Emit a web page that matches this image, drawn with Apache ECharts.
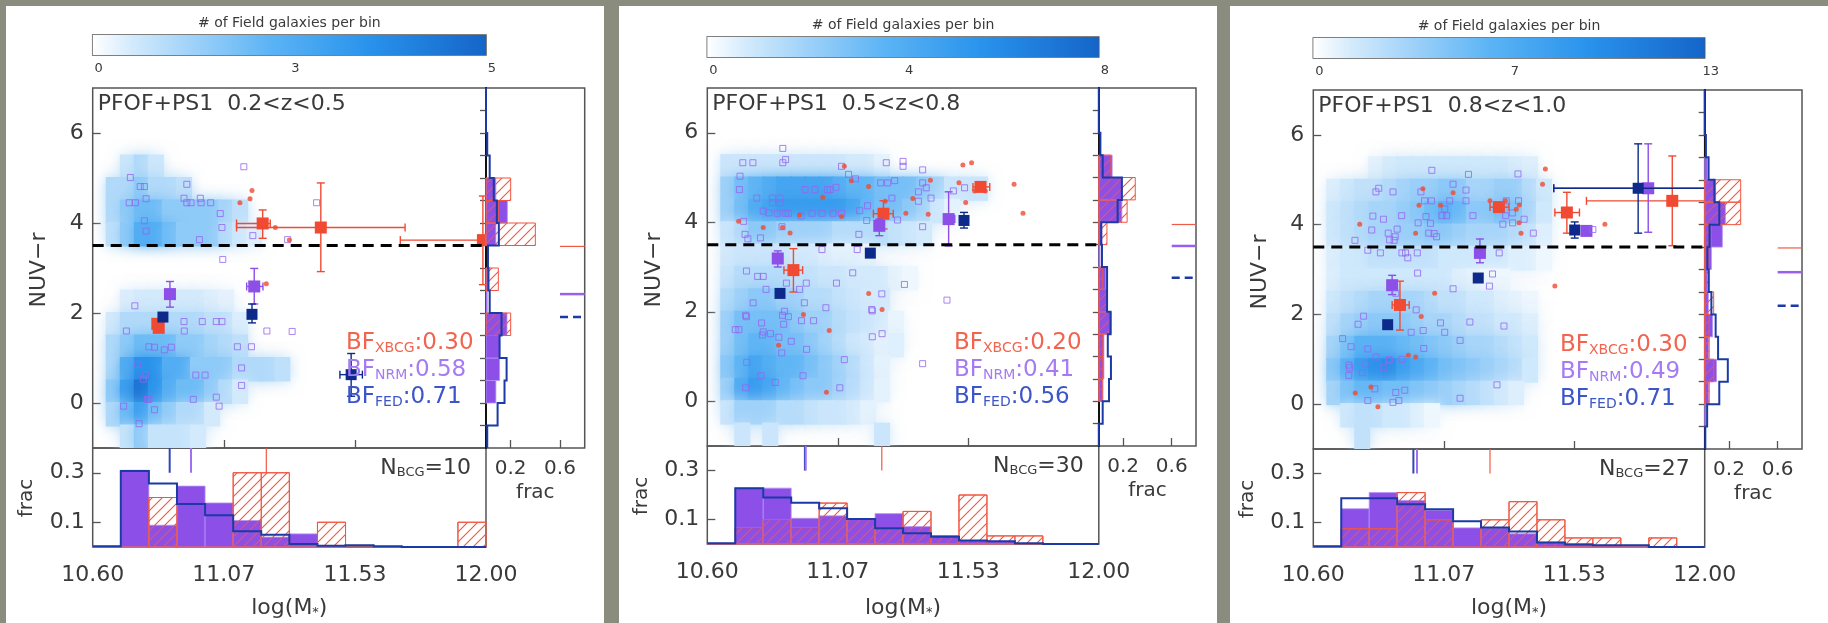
<!DOCTYPE html>
<html>
<head>
<meta charset="utf-8">
<script src="https://cdn.jsdelivr.net/npm/echarts@6/dist/echarts.min.js"></script>
<style>
html, body { margin: 0; padding: 0; background: #8a8c7d; }
#chart { width: 1828px; height: 623px; }
</style>
</head>
<body>
<div id="chart"></div>
<script>
// ---- data ----
const zRanges = ['0.2<z<0.5', '0.5<z<0.8', '0.8<z<1.0'];
const cbarMax = [5, 8, 13];
const cbarLabels = [['0', '3', '5'], ['0', '4', '8'], ['0', '7', '13']];
const nBcg = [10, 30, 27];
const bfXbcg = ['0.30', '0.20', '0.30'];
const bfNrm = ['0.58', '0.41', '0.49'];
const bfFed = ['0.71', '0.56', '0.71'];

const massTicks = [10.6, 11.0667, 11.5333, 12.0];
const massTickLabels = ['10.60', '11.07', '11.53', '12.00'];
const colorTicks = [0, 2, 4, 6];
const fracTicksBottom = [0.1, 0.3];
const fracTicksRight = [0.2, 0.6];
const colorMinorTicks = [-0.5, 0, 0.5, 1, 1.5, 2, 2.5, 3, 3.5, 4, 4.5, 5, 5.5, 6, 6.5];
const redSeqLine = 3.5;

const massEdges = [10.6, 10.7, 10.8, 10.9, 11.0, 11.1, 11.2, 11.3, 11.4, 11.5, 11.6, 11.7, 11.8, 11.9, 12.0];
const colorEdges = [-1, -0.5, 0, 0.5, 1, 1.5, 2, 2.5, 3, 3.5, 4, 4.5, 5, 5.5, 6, 6.5, 7];

// field galaxy density grid: rows are NUV-r bins (bottom edge), columns log M bins of 0.05 from 10.60
const fieldRowBottoms = [5.0, 4.5, 4.0, 3.5, 3.0, 2.5, 2.0, 1.5, 1.0, 0.5, 0.0, -0.5, -1.0];
const fieldX0 = 10.6, fieldDx = 0.05, fieldDy = 0.5;

const field1 = [
  [0, 0, 0.6, 1, 0.6],
  [0, 1, 1, 1.5, 1, 1, 0.8],
  [0, 1, 1.5, 2, 2, 1.5, 1.5, 1.5, 1.5, 1.2, 0.8],
  [0, 0.8, 1.5, 2.5, 2.5, 2, 1.5, 1.5, 1.5, 1, 0.6, 0.4],
  [],
  [],
  [0, 0, 0.4, 0.5, 0.5, 0.5, 0.5, 0.5, 0.4, 0.3],
  [0, 0.5, 1, 1, 1, 1, 1, 1, 0.8, 0.8, 0.4],
  [0, 1, 1.5, 2, 2, 2, 1.5, 1.5, 1.2, 1, 0.8],
  [0, 1, 2.5, 3.5, 3.5, 2.5, 2.5, 1.5, 1.5, 1.5, 1, 1, 1, 0.8],
  [0, 1.5, 3, 4.5, 3.5, 2.5, 2, 2, 1.5, 1, 0.5],
  [0, 1, 2, 3, 2, 1.5, 1, 1, 0.5],
  [0, 0, 0.7, 1.5, 0.7, 0.7, 0.7, 0.5]
];
const field2 = [
  [0, 1, 1, 1, 1, 1, 1, 1, 1, 1, 0.8, 0.8, 0.5],
  [0, 2, 3, 3.5, 4, 4.5, 4.5, 4.5, 4.5, 4, 3.5, 3.5, 3, 3, 3, 2.5, 2, 1, 1, 1],
  [0, 2, 3, 4, 4.5, 5, 5, 5, 5, 5, 4.5, 3.5, 3, 3, 2.5, 2, 1, 0.5],
  [0, 1, 1.5, 2.5, 2.5, 2, 2, 2, 2, 1.5, 1.5, 1.5, 1.5, 1.2, 1, 0.8],
  [0, 0.8, 1, 1, 1, 1, 0.8, 0.8, 0.6, 0.5, 0.5, 0.4],
  [0, 1, 1.5, 1.5, 1.5, 1.5, 1.2, 1.2, 1, 1, 0.8, 0.8, 0.8, 0.5, 0.3],
  [0, 1.5, 2, 2.5, 2.5, 2, 2, 1.5, 1.5, 1.2, 1, 0.8, 0.8],
  [0, 2, 3, 3, 3, 3, 2.5, 2, 2, 1.5, 1.2, 1, 0.8, 0.4],
  [0, 2, 3, 3.5, 3.5, 3, 3, 2.5, 2, 1.5, 1, 0.8, 0.5, 0.6],
  [0, 2.5, 3.5, 4.5, 4, 3.5, 3.5, 3, 2.5, 2, 1.5, 1, 0.5],
  [0, 2, 4, 5, 4.5, 3.5, 3, 2.5, 2.5, 2, 1.5, 1, 0.5],
  [0, 1, 2, 2, 2, 1.5, 1.5, 1.2, 1, 1, 0.8, 0.5],
  [0, 0, 1, 0, 1, 0, 0, 0, 0, 0, 0, 0, 1]
];
const field3 = [
  [0, 0, 0, 0, 0.8, 1.2, 1.5, 1.5, 1.5, 1.5, 1.5, 1.5, 1.5, 1.5, 1.2, 1],
  [0, 1, 1.5, 2, 2, 2.5, 3, 3.5, 3.5, 4, 4, 3, 3, 3.5, 3.5, 2.5, 1.5],
  [0, 1.5, 2, 2.5, 3, 3, 3.5, 4, 5, 6, 5.5, 4, 4, 5, 4.5, 3, 1.5],
  [0, 1.5, 2, 2.5, 3, 3, 3.5, 3.5, 4, 4, 3.5, 3, 3, 3, 2.5, 2, 1],
  [0, 1, 1.5, 1.5, 2, 2, 2, 2, 2, 1.5, 1.5, 1.5, 1.5, 1.5, 1, 1, 0.5],
  [0, 1, 1.5, 1.5, 1.5, 1.5, 1.5, 1.5, 1.5, 1.5, 1, 0.8, 0.5, 0.5],
  [0, 1.5, 2, 2.5, 3, 3, 3, 3, 2.5, 2, 2, 1.5, 1.5, 1, 0.8, 0.5],
  [0, 2, 3, 3.5, 4, 4, 4, 3.5, 3, 3, 2.5, 2, 2, 1.5, 1.5, 1],
  [0, 3, 4.5, 6, 6, 6, 5.5, 5, 4.5, 4, 3.5, 3, 3, 2.5, 2, 1.5],
  [0, 4, 6, 8, 9, 9.5, 8, 7, 6, 5, 4.5, 4, 3.5, 3, 2.5, 1.5],
  [0, 3, 4.5, 5.5, 5.5, 5, 5, 4.5, 4, 3.5, 3, 2.5, 2, 1.5, 1],
  [0, 0, 1.5, 2, 2, 1.5, 1.5, 1, 0.5],
  [0, 0, 0, 2]
];

// non-BCG (NRM) members: open squares [logM, NUV-r]
const nrm1 = [[10.734,5.01],[10.769,4.81],[10.784,4.81],[10.73,4.45],[10.752,4.45],[10.79,4.54],[10.935,4.86],[10.925,4.55],[10.935,4.45],[10.95,4.45],[10.983,4.55],[10.986,4.45],[11.02,4.45],[11.054,4.21],[11.06,3.9],[10.784,4.05],[10.79,3.82],[10.98,3.63],[11.138,5.25],[11.17,3.72],[11.397,4.45],[11.294,3.63],[11.063,3.19],[10.75,2.16],[10.925,1.81],[10.99,1.81],[11.04,1.81],[11.06,1.81],[10.72,1.6],[10.926,1.6],[11.22,1.6],[11.31,1.59],[10.8,1.25],[10.82,1.24],[10.855,1.18],[10.88,1.24],[11.115,1.25],[11.165,1.25],[10.76,0.86],[10.787,0.63],[10.78,0.53],[10.967,0.62],[11.0,0.62],[11.13,0.78],[11.13,0.39],[10.795,0.08],[10.8,0.08],[10.958,0.08],[11.04,0.13],[11.05,-0.07],[10.71,-0.07],[10.82,-0.15],[10.765,-0.46]];
const nrm2 = [[10.87,5.65],[10.88,5.4],[10.87,5.33],[10.727,5.33],[10.763,5.33],[10.717,5.03],[10.715,4.73],[10.777,4.54],[10.833,4.54],[10.86,4.54],[10.833,4.44],[10.86,4.44],[10.8,4.25],[10.82,4.21],[10.85,4.2],[10.88,4.2],[10.89,4.2],[10.935,4.14],[10.975,4.2],[11.01,4.2],[11.05,4.2],[11.08,4.2],[11.145,4.26],[10.95,4.73],[10.985,4.73],[11.03,4.73],[11.04,4.73],[11.06,4.78],[11.08,5.25],[11.105,5.07],[11.13,4.97],[11.22,4.88],[11.245,4.88],[11.27,4.93],[11.24,5.33],[11.3,5.36],[11.3,5.25],[11.37,5.17],[11.37,4.88],[11.383,4.77],[11.355,4.68],[11.4,4.54],[11.355,4.47],[11.48,4.7],[11.52,4.77],[11.26,4.54],[11.173,4.37],[11.17,4.04],[11.28,4.05],[11.37,3.9],[11.142,3.73],[10.73,4.02],[10.735,3.73],[10.745,3.63],[10.79,3.65],[10.867,3.9],[11.01,3.39],[11.136,3.39],[10.74,2.91],[10.78,2.79],[10.8,2.79],[10.883,2.64],[10.954,2.64],[10.93,2.5],[10.81,2.5],[11.062,2.64],[11.12,2.87],[11.305,2.61],[11.224,2.4],[11.457,2.26],[11.188,2.05],[10.947,2.2],[11.024,2.09],[10.876,2.01],[10.737,1.92],[10.869,1.92],[10.764,2.2],[10.74,1.89],[10.794,1.75],[10.873,1.72],[10.937,1.8],[10.98,1.8],[10.89,1.89],[10.7,1.6],[10.713,1.6],[10.8,1.55],[10.826,1.51],[10.797,1.48],[10.856,1.43],[10.9,1.34],[10.955,1.16],[10.866,1.08],[11.09,0.93],[11.19,1.44],[11.225,1.51],[11.19,2.02],[10.741,0.87],[10.792,0.57],[10.843,0.42],[10.942,0.57],[10.737,0.3],[11.074,0.3],[11.37,0.84]];
const nrm3 = [[11.024,5.21],[11.155,5.12],[11.332,5.13],[11.1,4.9],[11.146,4.77],[10.985,4.73],[10.885,4.73],[10.834,4.81],[10.824,4.73],[10.998,4.53],[11.023,4.53],[11.088,4.53],[11.146,4.53],[11.07,4.35],[11.06,4.2],[11.077,4.2],[11.003,4.18],[11.171,4.2],[10.813,4.19],[10.851,4.12],[10.916,4.2],[10.975,4.04],[11.019,4.03],[11.29,4.53],[11.334,4.53],[11.288,4.2],[11.312,4.26],[11.354,4.12],[11.278,4.01],[11.313,4.04],[10.809,3.88],[10.9,3.9],[10.868,3.81],[10.893,3.73],[10.873,3.66],[10.889,3.65],[11.013,3.81],[11.041,3.73],[11.032,3.8],[11.387,3.81],[10.749,3.65],[10.795,3.43],[10.84,3.37],[10.917,3.37],[10.93,3.37],[10.938,3.26],[10.972,3.37],[11.265,3.37],[10.973,2.92],[11.241,2.9],[11.23,2.63],[11.1,2.57],[10.895,2.47],[10.968,2.1],[10.78,1.96],[11.6,3.89],[10.76,1.78],[10.705,1.46],[10.735,1.28],[10.795,1.23],[10.824,1.05],[10.872,0.99],[10.917,1.0],[10.95,1.6],[10.993,1.64],[10.995,1.24],[11.055,1.81],[11.07,1.6],[11.16,1.83],[11.282,1.74],[11.125,1.42],[10.727,0.87],[10.73,0.81],[10.727,0.64],[10.785,0.89],[10.775,0.7],[10.85,0.81],[10.87,0.97],[11.257,0.43],[10.82,0.34],[10.895,0.26],[10.927,0.31],[10.795,0.08],[10.885,0.04],[10.906,0.08],[11.125,0.13]];

// X-ray BCGs: small dots
const xbcg1 = [[11.124,4.45],[11.16,4.54],[11.167,4.72],[11.25,3.9],[11.3,3.62],[11.218,2.65]];
const xbcg2 = [[10.712,4.02],[10.8,3.88],[10.869,3.88],[10.896,3.76],[10.93,4.16],[11.013,4.56],[11.08,4.13],[11.115,4.93],[11.09,5.25],[11.177,4.8],[11.236,4.47],[11.31,4.2],[11.335,4.53],[11.39,4.18],[11.398,4.94],[11.5,4.88],[11.514,5.28],[11.545,5.33],[11.524,4.44],[11.556,4.7],[11.594,4.7],[11.697,4.85],[11.729,4.2],[11.177,2.41],[11.225,2.05],[10.944,1.94],[11.036,1.58],[10.855,1.25],[11.026,0.2]];
const xbcg3 = [[11.43,5.24],[11.42,4.9],[10.992,4.8],[11.1,4.71],[10.978,4.43],[11.055,4.43],[11.232,4.53],[11.287,4.53],[11.326,4.34],[11.337,4.44],[11.336,4.04],[11.343,3.81],[10.966,3.81],[10.766,4.01],[11.643,4.01],[11.464,2.63],[11.034,2.47],[10.986,1.95],[10.94,1.09],[10.966,1.05],[10.75,0.25],[10.806,0.38],[10.831,-0.06]];

// binned means with errors: [logM, NUV-r, xlo, xhi, ylo, yhi]
const bigXbcg1 = [[11.205,3.99,11.112,11.232,3.66,4.29],[11.412,3.9,11.112,11.712,2.92,4.89],[11.989,3.62,11.695,12.0,2.63,4.6],[10.83,1.76,null,null,null,null],[10.835,1.67,null,null,null,null]];
const bigNrm1 = [[10.875,2.42,null,null,2.13,2.7],[11.175,2.59,11.148,11.206,2.2,2.99]];
const bigFed1 = [[10.85,1.91,null,null,null,null],[11.167,1.97,null,null,1.78,2.2],[11.52,0.63,11.48,11.56,0.15,1.1]];
const bigXbcg2 = [[11.23,4.19,11.194,11.265,3.85,4.48],[11.577,4.79,11.55,11.61,4.7,4.88],[10.908,2.93,10.874,10.941,2.44,3.41]];
const bigNrm2 = [[11.215,3.92,null,null,3.7,4.07],[11.463,4.07,11.446,11.485,3.47,4.68],[10.852,3.19,null,null,3.0,3.36]];
const bigFed2 = [[11.518,4.04,null,null,3.87,4.22],[11.183,3.31,null,null,null,null],[10.86,2.41,null,null,null,null]];
const bigXbcg3 = [[11.264,4.39,11.232,11.3,null,null],[11.507,4.27,11.464,11.552,3.81,4.72],[11.884,4.53,11.577,12.0,3.53,5.53],[10.91,2.21,10.882,10.943,1.65,2.74]];
const bigNrm3 = [[11.196,3.37,null,null,3.15,3.68],[10.882,2.65,null,null,2.44,2.87],[11.577,3.86,null,null,null,null],[11.798,4.81,11.46,12.0,3.83,5.8]];
const bigFed3 = [[11.762,4.81,11.46,12.0,3.81,5.8],[11.535,3.88,null,null,3.7,4.06],[11.19,2.81,null,null,null,null],[10.866,1.77,null,null,null,null]];

// stellar mass histograms (fraction per 0.1 dex bin, 10.6 - 12.0)
const massFed1 = [0.003,0.307,0.257,0.174,0.128,0.064,0.05,0.012,0.005,0.007,0.003,0,0,0];
const massNrm1 = [0.003,0.31,0.088,0.246,0.178,0.107,0.04,0.053,0.005,0,0,0,0,0];
const massXbcg1 = [0,0,0.2,0,0,0.3,0.3,0,0.1,0,0,0,0,0.1];
const massFed2 = [0.003,0.228,0.19,0.168,0.146,0.102,0.064,0.044,0.03,0.014,0.011,0.003,0,0];
const massNrm2 = [0.003,0.228,0.228,0.105,0.115,0.102,0.124,0.071,0.03,0.014,0.01,0,0,0];
const massXbcg2 = [0,0.067,0.1,0.067,0.167,0.1,0.067,0.133,0.033,0.2,0.033,0.033,0,0];
const massFed3 = [0.003,0.199,0.199,0.174,0.154,0.105,0.08,0.063,0.018,0.01,0.007,0.007,0,0];
const massNrm3 = [0.003,0.156,0.222,0.19,0.15,0.078,0.078,0.054,0.02,0.014,0.007,0.003,0,0];
const massXbcg3 = [0,0.074,0.074,0.222,0.111,0,0.111,0.185,0.111,0.037,0.037,0,0.037,0];

// NUV-r histograms (fraction per 0.5 mag bin, -1 - 7)
const colFed1 = [0.01,0.094,0.15,0.167,0.11,0.126,0.03,0.02,0.016,0.104,0.088,0.063,0.03,0.01,0,0];
const colNrm1 = [0,0,0.08,0.11,0.11,0.17,0.01,0.02,0,0.08,0.173,0.08,0,0,0,0];
const colXbcg1 = [0,0,0,0,0,0.2,0,0.1,0,0.4,0.1,0.2,0,0,0,0];
const colFed2 = [0,0.032,0.084,0.1,0.074,0.097,0.068,0.068,0.026,0.02,0.155,0.19,0.032,0.013,0,0];
const colNrm2 = [0,0,0.03,0.042,0.042,0.097,0.068,0.058,0.01,0.026,0.19,0.187,0.11,0,0,0];
const colXbcg2 = [0,0,0.033,0.033,0.033,0.1,0.067,0.033,0,0.067,0.233,0.3,0.1,0,0,0];
const colFed3 = [0.005,0.02,0.12,0.19,0.11,0.09,0.055,0.032,0.022,0.04,0.12,0.08,0.032,0.01,0,0];
const colNrm3 = [0,0.01,0.032,0.097,0.032,0.065,0.03,0.02,0.055,0.145,0.17,0.09,0.02,0,0,0];
const colXbcg3 = [0,0,0.037,0.074,0.037,0.037,0.074,0.037,0.037,0.055,0.296,0.296,0,0,0,0];

// medians [FED, NRM, XBCG]
const medMass1 = [10.874, 10.95, 11.218];
const medMass2 = [10.949, 10.952, 11.224];
const medMass3 = [10.958, 10.971, 11.232];
const medCol1 = [1.91, 2.42, 3.48];
const medCol2 = [2.76, 3.47, 3.95];
const medCol3 = [2.19, 2.94, 3.48];

// ---- styling / layout ----
const FONT = 'DejaVu Sans';
const INK = '#3a3a3a';
const FRAME = '#555';
const RED = '#f04a32', PURPLE = '#8c4fe8', NAVY = '#0d2a8a', BLUE = '#1b3aa5';
const cmapStops = [[0, '#ffffff'], [0.1, '#d3eafc'], [0.25, '#a0d2f9'], [0.45, '#5cb4f5'], [0.7, '#2993ec'], [1, '#1565c8']];

const layout = [
  { L: 92.7, T: 88, W: 393.3, H: 360, Hb: 99, Wr: 98.7, cbT: 35, bfX: 346, white: [6, 604] },
  { L: 707.3, T: 88, W: 391.5, H: 358, Hb: 98, Wr: 97.2, cbT: 37, bfX: 954, white: [619, 1217] },
  { L: 1313.3, T: 90, W: 391.4, H: 359, Hb: 98, Wr: 97.3, cbT: 38, bfX: 1560, white: [1230, 1828] }
];

const panels = [
  { field: field1, nrm: nrm1, xbcg: xbcg1, bigX: bigXbcg1, bigN: bigNrm1, bigF: bigFed1,
    mF: massFed1, mN: massNrm1, mX: massXbcg1, cF: colFed1, cN: colNrm1, cX: colXbcg1, medM: medMass1, medC: medCol1 },
  { field: field2, nrm: nrm2, xbcg: xbcg2, bigX: bigXbcg2, bigN: bigNrm2, bigF: bigFed2,
    mF: massFed2, mN: massNrm2, mX: massXbcg2, cF: colFed2, cN: colNrm2, cX: colXbcg2, medM: medMass2, medC: medCol2 },
  { field: field3, nrm: nrm3, xbcg: xbcg3, bigX: bigXbcg3, bigN: bigNrm3, bigF: bigFed3,
    mF: massFed3, mN: massNrm3, mX: massXbcg3, cF: colFed3, cN: colNrm3, cX: colXbcg3, medM: medMass3, medC: medCol3 }
];

function hexToRgb(h) { return [1, 3, 5].map(i => parseInt(h.substr(i, 2), 16)); }
function cmap(t) {
  t = Math.max(0, Math.min(1, t));
  for (let i = 1; i < cmapStops.length; i++) {
    if (t <= cmapStops[i][0]) {
      const a = cmapStops[i - 1], b = cmapStops[i];
      const f = (t - a[0]) / (b[0] - a[0]);
      const ca = hexToRgb(a[1]), cb = hexToRgb(b[1]);
      return 'rgb(' + ca.map((v, k) => Math.round(v + (cb[k] - v) * f)).join(',') + ')';
    }
  }
  return cmapStops[cmapStops.length - 1][1];
}

function hatchCanvas() {
  const c = document.createElement('canvas');
  c.width = 10; c.height = 10;
  const g = c.getContext('2d');
  g.strokeStyle = '#f2553f';
  g.lineWidth = 1.1;
  g.beginPath();
  g.moveTo(0, 10); g.lineTo(10, 0);
  g.moveTo(-2, 2); g.lineTo(2, -2);
  g.moveTo(8, 12); g.lineTo(12, 8);
  g.stroke();
  return c;
}
const hatch = { image: hatchCanvas(), repeat: 'repeat' };

function barsItem(edges, vals, horiz, style) {
  return function (params, api) {
    const i = params.dataIndex, v = vals[i];
    if (!v) return null;
    const a = horiz ? api.coord([0, edges[i]]) : api.coord([edges[i], 0]);
    const b = horiz ? api.coord([v, edges[i + 1]]) : api.coord([edges[i + 1], v]);
    return { type: 'rect', shape: { x: Math.min(a[0], b[0]), y: Math.min(a[1], b[1]),
      width: Math.abs(b[0] - a[0]), height: Math.abs(b[1] - a[1]) }, style: style };
  };
}
function stepItem(edges, vals, horiz, stroke, width) {
  return function (params, api) {
    if (params.dataIndex) return null;
    const pts = [];
    vals.forEach((v, i) => {
      pts.push(horiz ? api.coord([v, edges[i]]) : api.coord([edges[i], v]));
      pts.push(horiz ? api.coord([v, edges[i + 1]]) : api.coord([edges[i + 1], v]));
    });
    return { type: 'polyline', shape: { points: pts }, style: { stroke: stroke, lineWidth: width, fill: null } };
  };
}
function segItem(color, width, dash) {
  return function (params, api) {
    const a = api.coord([api.value(0), api.value(1)]);
    const b = api.coord([api.value(2), api.value(3)]);
    return { type: 'line', shape: { x1: a[0], y1: a[1], x2: b[0], y2: b[1] },
      style: { stroke: color, lineWidth: width, lineDash: dash || null } };
  };
}
function bigItem(rows, color, size) {
  return function (params, api) {
    const d = rows[params.dataIndex];
    const c = api.coord([d[0], d[1]]);
    const st = { stroke: color, lineWidth: 1.4 };
    const kids = [];
    const cap = 4;
    const seg = (x1, y1, x2, y2) => kids.push({ type: 'line', shape: { x1, y1, x2, y2 }, style: st });
    if (d[2] != null) {
      const l = api.coord([d[2], d[1]])[0], r = api.coord([d[3], d[1]])[0];
      seg(l, c[1], r, c[1]); seg(l, c[1] - cap, l, c[1] + cap); seg(r, c[1] - cap, r, c[1] + cap);
    }
    if (d[4] != null) {
      const lo = api.coord([d[0], d[4]])[1], hi = api.coord([d[0], d[5]])[1];
      seg(c[0], lo, c[0], hi); seg(c[0] - cap, lo, c[0] + cap, lo); seg(c[0] - cap, hi, c[0] + cap, hi);
    }
    kids.push({ type: 'rect', shape: { x: c[0] - size / 2, y: c[1] - size / 2, width: size, height: size }, style: { fill: color } });
    return { type: 'group', children: kids };
  };
}

const labelStyle = { fontFamily: FONT, color: INK };
const grid = [], xAxis = [], yAxis = [], series = [], graphic = [];
const noLine = { show: false, onZero: false };

layout.forEach((lay, p) => {
  const P = panels[p];
  const g0 = p * 4;
  const frame = { show: true, borderColor: FRAME, borderWidth: 1.5, backgroundColor: 'transparent' };
  grid.push(Object.assign({ left: lay.L, top: lay.T, width: lay.W, height: lay.H }, frame));
  grid.push(Object.assign({ left: lay.L, top: lay.T + lay.H, width: lay.W, height: lay.Hb }, frame));
  grid.push(Object.assign({ left: lay.L + lay.W, top: lay.T, width: lay.Wr, height: lay.H }, frame));
  grid.push(Object.assign({ left: lay.L, top: lay.cbT, width: lay.W, height: 20 }, frame));

  const tickLine = { color: FRAME, width: 1.3 };
  // main
  xAxis.push({ gridIndex: g0, type: 'value', min: 10.6, max: 12, position: 'bottom', axisLine: noLine, splitLine: { show: false },
    axisLabel: { show: false }, axisTick: { inside: true, length: 8, customValues: massTicks.slice(1, 3), lineStyle: tickLine } });
  yAxis.push({ gridIndex: g0, type: 'value', min: -1, max: 7, axisLine: noLine, splitLine: { show: false },
    axisTick: { inside: true, length: 8, customValues: colorTicks, lineStyle: tickLine },
    axisLabel: Object.assign({ customValues: colorTicks, fontSize: 22, margin: 9 }, labelStyle) });
  // bottom mass histogram
  xAxis.push({ gridIndex: g0 + 1, type: 'value', min: 10.6, max: 12, position: 'bottom', axisLine: noLine, splitLine: { show: false },
    axisTick: { show: false },
    axisLabel: Object.assign({ customValues: massTicks, fontSize: 22, margin: 17,
      formatter: v => massTickLabels[massTicks.findIndex(m => Math.abs(m - v) < 1e-3)] }, labelStyle) });
  yAxis.push({ gridIndex: g0 + 1, type: 'value', min: 0, max: 0.4, axisLine: noLine, splitLine: { show: false },
    axisTick: { inside: true, length: 8, customValues: fracTicksBottom, lineStyle: tickLine },
    axisLabel: Object.assign({ customValues: fracTicksBottom, fontSize: 22, margin: 8, formatter: v => v.toFixed(1) }, labelStyle) });
  // right colour histogram
  xAxis.push({ gridIndex: g0 + 2, type: 'value', min: 0, max: 0.8, position: 'bottom', axisLine: noLine, splitLine: { show: false },
    axisTick: { inside: true, length: 8, customValues: fracTicksRight, lineStyle: tickLine },
    axisLabel: Object.assign({ customValues: fracTicksRight, fontSize: 20, margin: 11, formatter: v => v.toFixed(1) }, labelStyle) });
  yAxis.push({ gridIndex: g0 + 2, type: 'value', min: -1, max: 7, position: 'left', splitLine: { show: false },
    axisLine: { show: true, onZero: false, lineStyle: { color: '#111', width: 2 } },
    axisTick: { inside: false, length: 6, customValues: colorMinorTicks, lineStyle: tickLine },
    axisLabel: { show: false } });
  // colour bar
  xAxis.push({ gridIndex: g0 + 3, type: 'value', min: 0, max: 1, position: 'bottom', axisLine: noLine, splitLine: { show: false },
    axisTick: { inside: true, length: 5, customValues: [0.25, 0.5, 0.75], lineStyle: { color: '#444', width: 1 } },
    axisLabel: Object.assign({ customValues: [0, 0.5, 1], fontSize: 13, margin: 7, padding: [0, 0, 0, 12],
      formatter: v => cbarLabels[p][Math.round(v * 2)] }, labelStyle) });
  yAxis.push({ gridIndex: g0 + 3, type: 'value', min: 0, max: 1, show: false });

  const ax = k => ({ xAxisIndex: g0 + k, yAxisIndex: g0 + k });

  // colour bar gradient
  series.push(Object.assign({ type: 'custom', silent: true, data: [[0.5, 0.5]],
    renderItem: (params, api) => {
      const a = api.coord([0, 0]), b = api.coord([1, 1]);
      return { type: 'rect', shape: { x: a[0], y: b[1], width: b[0] - a[0], height: a[1] - b[1] },
        style: { fill: new echarts.graphic.LinearGradient(0, 0, 1, 0, cmapStops.map(s => ({ offset: s[0], color: s[1] }))) } };
    } }, ax(3)));

  // field density
  const heat = [];
  P.field.forEach((row, r) => row.forEach((v, c) => {
    if (v > 0) heat.push([fieldX0 + c * fieldDx, fieldRowBottoms[r], v]);
  }));
  const vmax = cbarMax[p];
  series.push(Object.assign({ type: 'custom', silent: true, clip: true, data: heat,
    renderItem: (params, api) => {
      const x0 = api.value(0), y0 = api.value(1), v = api.value(2);
      const a = api.coord([x0, y0]), b = api.coord([x0 + fieldDx, y0 + fieldDy]);
      const col = cmap(v / vmax);
      return { type: 'rect', shape: { x: a[0] - 1, y: b[1] - 1, width: b[0] - a[0] + 2, height: a[1] - b[1] + 2 },
        style: { fill: col, shadowBlur: 14, shadowColor: col } };
    } }, ax(0)));

  series.push(Object.assign({ type: 'line', silent: true, symbol: 'none', data: [[10.6, redSeqLine], [12, redSeqLine]],
    lineStyle: { color: '#000', width: 3, type: [11, 7] } }, ax(0)));

  series.push(Object.assign({ type: 'scatter', silent: true, data: P.nrm, symbol: 'rect', symbolSize: 6,
    itemStyle: { color: 'rgba(0,0,0,0)', borderColor: '#9466f0', borderWidth: 1 } }, ax(0)));
  series.push(Object.assign({ type: 'scatter', silent: true, data: P.xbcg, symbol: 'circle', symbolSize: 5,
    itemStyle: { color: RED } }, ax(0)));

  [[P.bigX, RED, 12], [P.bigN, PURPLE, 12], [P.bigF, NAVY, 11]].forEach(([rows, col, sz]) => {
    series.push(Object.assign({ type: 'custom', silent: true, clip: false, data: rows.map(d => [d[0], d[1]]),
      renderItem: bigItem(rows, col, sz) }, ax(0)));
  });

  // bottom: mass histograms
  const mCenters = vals => vals.map((v, i) => [(massEdges[i] + massEdges[i + 1]) / 2, v]);
  series.push(Object.assign({ type: 'custom', silent: true, data: mCenters(P.mN),
    renderItem: barsItem(massEdges, P.mN, false, { fill: PURPLE, stroke: '#b592f5', lineWidth: 0.8 }) }, ax(1)));
  series.push(Object.assign({ type: 'custom', silent: true, data: mCenters(P.mX),
    renderItem: barsItem(massEdges, P.mX, false, { fill: hatch, stroke: '#f2553f', lineWidth: 1 }) }, ax(1)));
  series.push(Object.assign({ type: 'custom', silent: true, data: [[11, 0]],
    renderItem: stepItem(massEdges, P.mX, false, '#f2553f', 1) }, ax(1)));
  series.push(Object.assign({ type: 'custom', silent: true, data: [[11, 0]],
    renderItem: stepItem(massEdges, P.mF, false, BLUE, 2) }, ax(1)));
  [[P.medM[0], '#3046b5', 2], [P.medM[1], '#a070f0', 2], [P.medM[2], '#f05a45', 1.2]].forEach(([m, col, w]) => {
    series.push(Object.assign({ type: 'custom', silent: true, data: [[m, 0.3, m, 0.4]], renderItem: segItem(col, w) }, ax(1)));
  });

  // right: colour histograms
  const cCenters = vals => vals.map((v, i) => [v, (colorEdges[i] + colorEdges[i + 1]) / 2]);
  series.push(Object.assign({ type: 'custom', silent: true, data: cCenters(P.cN),
    renderItem: barsItem(colorEdges, P.cN, true, { fill: PURPLE, stroke: '#b592f5', lineWidth: 0.8 }) }, ax(2)));
  series.push(Object.assign({ type: 'custom', silent: true, data: cCenters(P.cX),
    renderItem: barsItem(colorEdges, P.cX, true, { fill: hatch, stroke: '#f2553f', lineWidth: 1 }) }, ax(2)));
  series.push(Object.assign({ type: 'custom', silent: true, data: [[0, 3]],
    renderItem: stepItem(colorEdges, P.cF, true, BLUE, 2) }, ax(2)));
  [[P.medC[0], '#1b3aa5', 2.5, [8, 5]], [P.medC[1], '#9a5ff0', 2.5, null], [P.medC[2], '#f05a45', 1.2, null]].forEach(([m, col, w, dash]) => {
    series.push(Object.assign({ type: 'custom', silent: true, data: [[0.6, m, 0.8, m]], renderItem: segItem(col, w, dash) }, ax(2)));
  });

  // panel background and texts
  graphic.push({ type: 'rect', z: -10, shape: { x: lay.white[0], y: 6, width: lay.white[1] - lay.white[0], height: 620 },
    style: { fill: '#ffffff' } });
  const txt = (x, y, text, size, extra) => graphic.push(Object.assign({ type: 'text', z: 100, x: x, y: y,
    style: { text: text, fontFamily: FONT, fontSize: size, fill: INK, align: 'center', verticalAlign: 'middle' } }, extra || {}));
  txt(lay.L + lay.W / 2, lay.cbT - 12, '# of Field galaxies per bin', 14);
  graphic.push({ type: 'text', z: 100, x: lay.L + 5, y: lay.T + 16,
    style: { text: 'PFOF+PS1  ' + zRanges[p], fontFamily: FONT, fontSize: 22, fill: INK, align: 'left', verticalAlign: 'middle' } });
  txt(lay.L - 53, lay.T + 182, 'NUV\u2212r', 22, { rotation: Math.PI / 2 });
  txt(lay.L - 66, lay.T + lay.H + 50, 'frac', 20, { rotation: Math.PI / 2 });
  txt(lay.L + lay.W + lay.Wr / 2, lay.T + lay.H + 45, 'frac', 20);

  const sub = (fill, big, small) => ({
    a: { fontFamily: FONT, fontSize: big, fill: fill, color: fill, verticalAlign: 'bottom', lineHeight: 26 },
    b: { fontFamily: FONT, fontSize: small, fill: fill, color: fill, verticalAlign: 'bottom', lineHeight: 10 }
  });
  const richTxt = (x, y, text, rich, align) => graphic.push({ type: 'text', z: 100, x: x, y: y,
    style: { text: text, rich: rich, align: align || 'left', verticalAlign: 'middle' } });
  richTxt(lay.L + lay.W / 2, 606, '{a|log(M}{b|*}{a|)}', sub(INK, 22, 13), 'center');
  richTxt(lay.L + lay.W - 15, lay.T + lay.H + 18, '{a|N}{b|BCG}{a|=' + nBcg[p] + '}', sub(INK, 22, 13), 'right');
  richTxt(lay.bfX, lay.T + 254, '{a|BF}{b|XBCG}{a|:' + bfXbcg[p] + '}', sub('#f26450', 23, 14));
  richTxt(lay.bfX, lay.T + 281, '{a|BF}{b|NRM}{a|:' + bfNrm[p] + '}', sub('#a57af4', 23, 14));
  richTxt(lay.bfX, lay.T + 308, '{a|BF}{b|FED}{a|:' + bfFed[p] + '}', sub('#3c55c8', 23, 14));
});

const chart = echarts.init(document.getElementById('chart'));
chart.setOption({
  animation: false,
  backgroundColor: '#8a8c7d',
  grid: grid,
  xAxis: xAxis,
  yAxis: yAxis,
  series: series,
  graphic: graphic
});
</script>
</body>
</html>
